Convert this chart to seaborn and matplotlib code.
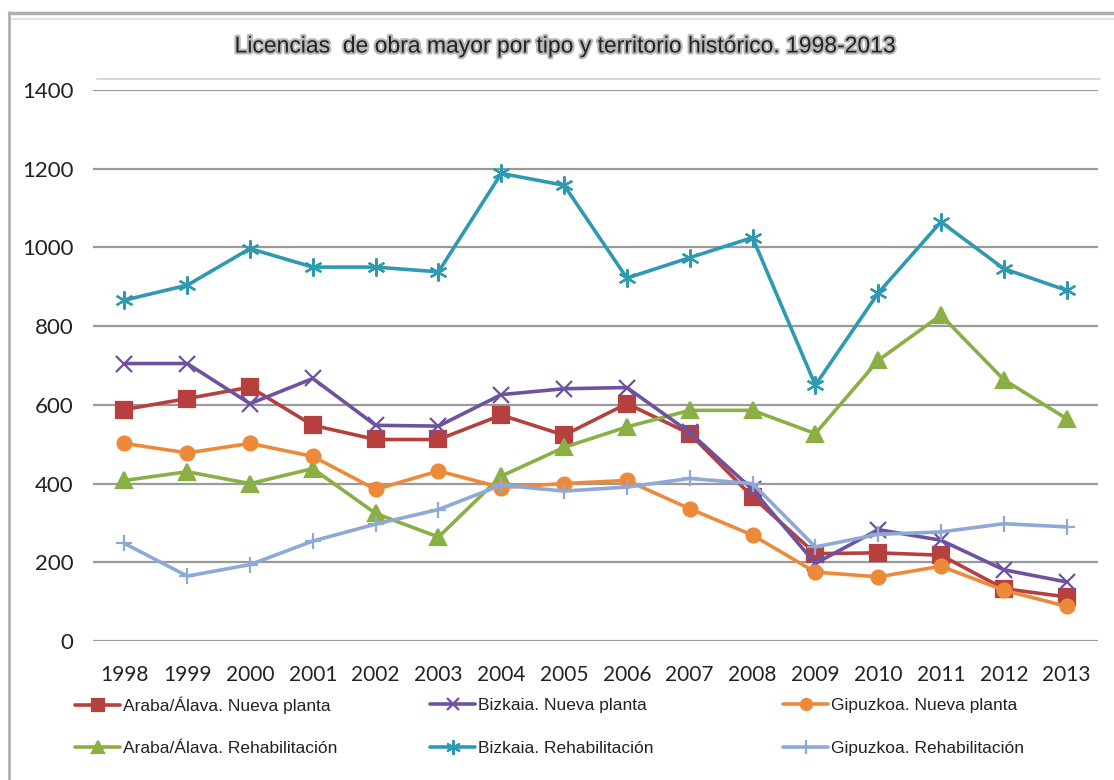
import numpy as np
import pandas as pd
import seaborn as sns
import matplotlib.pyplot as plt
from matplotlib.lines import Line2D
import matplotlib.patheffects as pe

# Datos
years = [str(y) for y in range(1998, 2014)]
araba_nueva = [588, 616, 645, 548, 512, 512, 574, 523, 603, 527, 366, 222, 224, 218, 133, 112]
bizkaia_nueva = [705, 705, 603, 667, 548, 546, 626, 641, 644, 530, 385, 197, 283, 256, 181, 150]
gipuzkoa_nueva = [502, 478, 502, 469, 385, 432, 390, 400, 408, 336, 269, 175, 163, 190, 129, 88]
araba_rehab = [408, 430, 400, 438, 324, 264, 419, 492, 544, 586, 586, 527, 713, 828, 664, 565]
bizkaia_rehab = [866, 904, 997, 950, 950, 938, 1188, 1158, 922, 974, 1025, 650, 884, 1065, 946, 891]
gipuzkoa_rehab = [248, 165, 194, 254, 297, 334, 396, 381, 391, 413, 400, 239, 271, 277, 298, 290]

series = [
    ("Araba/Álava. Nueva planta", araba_nueva, "#B5403D", "s", 11),
    ("Araba/Álava. Rehabilitación", araba_rehab, "#8AB045", "^", 11),
    ("Bizkaia. Nueva planta", bizkaia_nueva, "#6E52A0", "x", 11),
    ("Bizkaia. Rehabilitación", bizkaia_rehab, "#2E9AB2", (6, 2, 0), 13),
    ("Gipuzkoa. Nueva planta", gipuzkoa_nueva, "#EC8A3A", "o", 10),
    ("Gipuzkoa. Rehabilitación", gipuzkoa_rehab, "#8EA9D8", "+", 12),
]

sns.set_style("white")
plt.rcParams['font.family'] = ['Lato', 'DejaVu Sans']

fig = plt.figure(figsize=(11.14, 7.8), dpi=100)
ax = fig.add_axes([93 / 1114, 1 - 641 / 780, (1098 - 93) / 1114, (641 - 90) / 780])

x = np.arange(len(years))
for nombre, valores, color, marcador, tam in series:
    sns.lineplot(x=x, y=valores, ax=ax, color=color, linewidth=2.6,
                 marker=marcador, markersize=tam, markeredgewidth=1.6,
                 markeredgecolor=color, label=nombre, legend=False)

ax.set_xlim(-0.5, len(years) - 0.5)
ax.set_ylim(0, 1400)
ax.set_yticks(range(0, 1401, 200))
ax.set_xticks(x)
ax.set_xticklabels(years)
ax.tick_params(axis='y', labelsize=16, pad=14, length=0, colors='#222222')
ax.tick_params(axis='x', labelsize=15, pad=17, length=0, colors='#222222')
ax.yaxis.grid(True, color='#9a9a9a', linewidth=1.6)
ax.set_axisbelow(True)
for s in ax.spines.values():
    s.set_visible(False)
ax.set_xlabel('')
ax.set_ylabel('')

# titulo con halo gris
fig.text(565 / 1114, 1 - 46 / 780,
         'Licencias  de obra mayor por tipo y territorio histórico. 1998-2013',
         ha='center', va='center', fontsize=16.5, color='#222222',
         family=['Liberation Sans', 'DejaVu Sans'],
         path_effects=[pe.withStroke(linewidth=3, foreground='#b8b8b8')])

# marco del grafico
fig.add_artist(Line2D([9 / 1114, 9 / 1114], [0, 1 - 12 / 780], color='#a8a8a8', linewidth=1.8))
fig.add_artist(Line2D([9 / 1114, 1], [1 - 13 / 780, 1 - 13 / 780], color='#b0b0b0', linewidth=2.5))
fig.add_artist(Line2D([12 / 1114, 1], [1 - 19 / 780, 1 - 19 / 780], color='#dedede', linewidth=1.2))
fig.add_artist(Line2D([97 / 1114, 1100 / 1114], [1 - 79 / 780, 1 - 79 / 780], color='#d0d0d0', linewidth=1.2))

# leyenda: una entrada por posicion (3 columnas x 2 filas)
handles, labels = ax.get_legend_handles_labels()
col_x = [75, 430, 783]
row_y = [705, 748]
for i, (h, l) in enumerate(zip(handles, labels)):
    cx = col_x[i // 2]
    cy = row_y[i % 2]
    leg = fig.legend([h], [l], loc='center left',
                     bbox_to_anchor=(cx / 1114, 1 - cy / 780),
                     frameon=False, borderpad=0, borderaxespad=0,
                     prop={'family': ['Liberation Sans', 'DejaVu Sans'], 'size': 12.5},
                     handlelength=2.6, handletextpad=0.15, markerscale=0.8)
    for t in leg.get_texts():
        t.set_color('#222222')

plt.savefig("out.png", dpi=100)
